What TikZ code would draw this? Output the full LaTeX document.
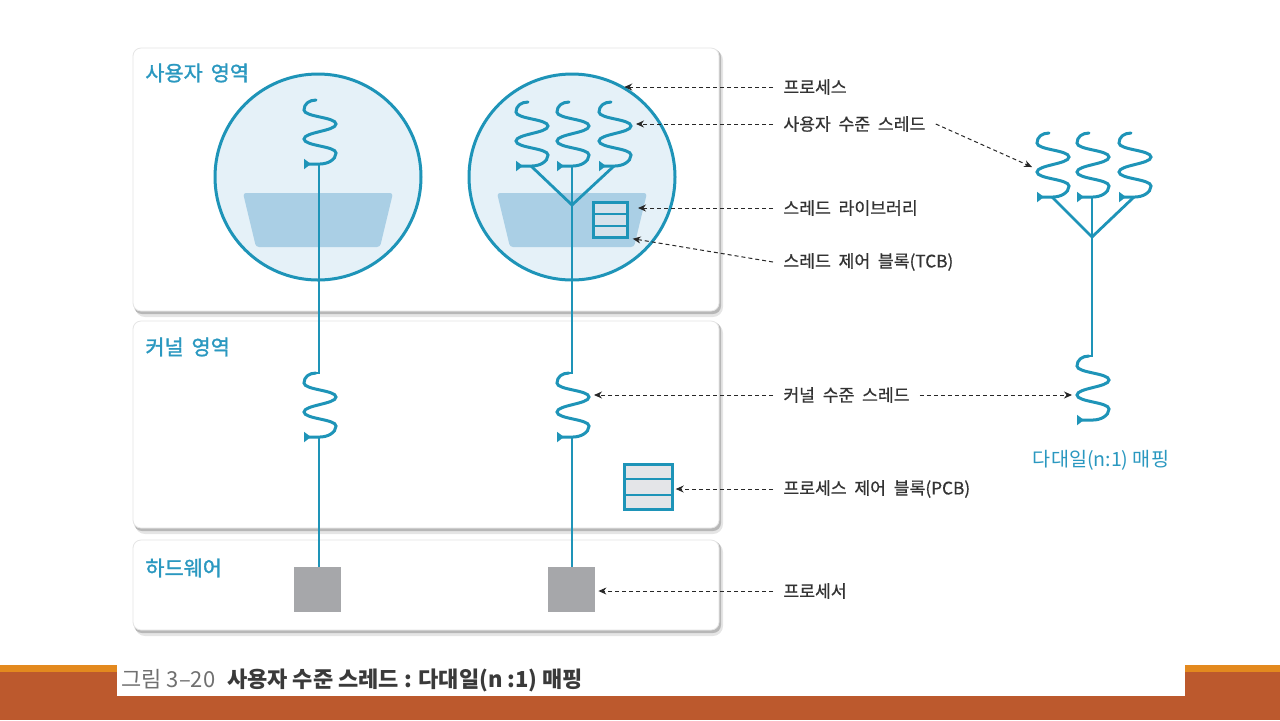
\documentclass[tikz,border=0pt]{standalone}
\usepackage{fontspec}
\setmainfont{Noto Sans CJK KR}
\newfontfamily\lblfont[WordSpace=2.0,FakeBold=0.6]{Noto Sans CJK KR}
\newfontfamily\areafont[WordSpace=1.7,FakeBold=1.4]{Noto Sans CJK KR}
\usepackage{tikz}
\usetikzlibrary{calc,arrows.meta,positioning}
\definecolor{osTeal}{RGB}{30,148,184}
\definecolor{osTealText}{RGB}{42,152,192}
\definecolor{osCircle}{RGB}{229,241,248}
\definecolor{osLib}{RGB}{170,207,229}
\definecolor{osTcb}{RGB}{214,226,235}
\definecolor{osPcb}{RGB}{228,229,232}
\definecolor{osCpu}{RGB}{166,167,170}
\definecolor{osText}{RGB}{51,51,51}
\definecolor{osDash}{RGB}{40,40,40}
\definecolor{osAmber}{RGB}{227,137,30}
\definecolor{osRust}{RGB}{188,89,45}
\definecolor{osCapGray}{RGB}{112,112,112}
\definecolor{osCapDark}{RGB}{58,58,58}

\tikzset{
    thread/.style={draw=osTeal, line width=1.5pt, line cap=round},
    wire/.style={draw=osTeal, line width=1.4pt},
    procc/.style={circle, draw=osTeal, line width=1.5pt, fill=osCircle, minimum size=103pt, inner sep=0pt},
    cb/.style={draw=osTeal, line width=1.2pt, inner sep=0pt},
    cbrule/.style={draw=osTeal, line width=1.2pt},
    cpu/.style={fill=osCpu, minimum width=23.5pt, minimum height=22.5pt, inner sep=0pt},
    panelbox/.style={fill=white, draw=black!10, line width=0.4pt, rounded corners=4pt},
    area/.style={anchor=west, inner sep=0pt, text=osTealText, font=\areafont\fontsize{10.4pt}{12pt}\selectfont},
    maplabel/.style={inner sep=0pt, text=osTealText, font=\fontsize{9.8pt}{12pt}\selectfont},
    lbl/.style={anchor=west, inner xsep=5pt, inner ysep=1pt, text=osText, font=\lblfont\fontsize{8.6pt}{10pt}\selectfont},
    callout/.style={draw=osDash, line width=0.5pt, dash pattern=on 2pt off 1.5pt, -{Stealth[length=4pt,width=3.5pt]}},
    caption/.style={anchor=west, inner sep=0pt, text=osCapDark, font=\fontsize{11pt}{13pt}\selectfont},
    coil/.pic={
        \coordinate (-top) at (-3,-64);
        \coordinate (-base) at (0,0);
        \coordinate (-right) at (22,-41);
        \coordinate (-left) at (-20,-30);
        \draw[thread, -{Triangle[reversed,length=3.5pt,width=5pt]}]
            (-3,-64) .. controls (-10,-64) and (-15,-60) .. (-15,-54)
            .. controls (-15,-47) and (17,-47) .. (17,-40)
            .. controls (17,-33) and (-15,-32) .. (-15,-25)
            .. controls (-15,-18) and (17,-18) .. (17,-11)
            .. controls (17,-4) and (8,0) .. (1,0) -- (-15,0);
    }
}

\begin{document}
\begin{tikzpicture}[x=0.5pt,y=-0.5pt]
    % page
    \useasboundingbox (0,0) rectangle (1280,720);
    \fill[white] (0,0) rectangle (1280,720);

    % footer band with caption
    \fill[osAmber] (0,665) rectangle (1280,672);
    \fill[osRust] (0,672) rectangle (1280,720);
    \fill[white] (117,665) rectangle (1185,696);
    \node[caption] (cap) at (121,680) {{\color{osCapGray}그림 3–20}\hspace{6pt}\textbf{사용자 수준 스레드 : 다대일(n :1) 매핑}};

    % three areas, soft shadow under each
    \foreach \ptop/\pbot in {48/311,321/528,540/630} {
        \fill[black, opacity=0.10, rounded corners=5pt] (135,\ptop+2) rectangle (723,\pbot+6);
        \fill[black, opacity=0.20, rounded corners=4pt] (134,\ptop+1) rectangle (721,\pbot+3);
        \draw[panelbox] (133,\ptop) rectangle (719,\pbot);
    }
    \node[area] (uarea) at (145,73) {사용자 영역};
    \node[area] (karea) at (145,347) {커널 영역};
    \node[area] (harea) at (145,568) {하드웨어};

    % processes with thread library
    \node[procc] (c1) at (318,177) {};
    \node[procc] (c2) at (572,177) {};
    \foreach \cx in {318,572}
        \fill[osLib, rounded corners=1.5pt] (\cx-75,193) -- (\cx+75,193) -- (\cx+62,247) -- (\cx-62,247) -- cycle;
    \coordinate (lib2) at (638,207);

    % control blocks
    \node[cb, fill=osTcb, minimum width=17pt, minimum height=17.5pt] (tcb) at (610.5,220) {};
    \node[cb, fill=osPcb, minimum width=24pt, minimum height=22.5pt] (pcb) at (648.5,487) {};
    \foreach \b in {tcb,pcb} {
        \draw[cbrule] ($(\b.north west)!1/3!(\b.south west)$) -- ($(\b.north east)!1/3!(\b.south east)$);
        \draw[cbrule] ($(\b.north west)!2/3!(\b.south west)$) -- ($(\b.north east)!2/3!(\b.south east)$);
    }

    % processors
    \node[cpu] (cpu1) at (317.5,589.5) {};
    \node[cpu] (cpu2) at (571.5,589.5) {};

    % user level threads
    \pic (ut1) at (319,164) {coil};
    \pic (ut2a) at (531,166) {coil};
    \pic (ut2b) at (572,166) {coil};
    \pic (ut2c) at (614,166) {coil};
    \pic (ut3a) at (1052,197) {coil};
    \pic (ut3b) at (1092,197) {coil};
    \pic (ut3c) at (1134,197) {coil};

    % kernel level threads
    \pic (kt1) at (319,437) {coil};
    \pic (kt2) at (572,437) {coil};
    \pic (kt3) at (1092,420) {coil};

    % n:1 wiring
    \coordinate (fan2) at (572,205);
    \coordinate (fan3) at (1092,237);
    \draw[wire] (ut1-base) |- (kt1-top);
    \draw[wire] (kt1-base) -- (kt1-base |- cpu1.north);
    \draw[wire] (ut2a-base) -- (fan2) -- (ut2c-base);
    \draw[wire] (ut2b-base) |- (kt2-top);
    \draw[wire] (kt2-base) -- (kt2-base |- cpu2.north);
    \draw[wire] (ut3a-base) -- (fan3) -- (ut3c-base);
    \draw[wire] (ut3b-base) |- (kt3-top);
    \node[maplabel] (maplbl) at (1101,460) {다대일(n:1) 매핑};

    % labels
    \node[lbl] (lblproc) at (773,87) {프로세스};
    \node[lbl] (lbluser) at (773,124) {사용자 수준 스레드};
    \node[lbl] (lbllib) at (773,208) {스레드 라이브러리};
    \node[lbl] (lbltcb) at (773,262) {스레드 제어 블록(TCB)};
    \node[lbl] (lblkern) at (773,395) {커널 수준 스레드};
    \node[lbl] (lblpcb) at (773,489) {프로세스 제어 블록(PCB)};
    \node[lbl] (lblcpu) at (773,591) {프로세서};

    % callouts
    \draw[callout] (lblproc.west) -- (lblproc.west -| c2.60);
    \draw[callout] (lbluser.west) -- (lbluser.west -| ut2c-right);
    \draw[callout] (lbluser.east) -- (ut3a-left);
    \draw[callout] (lbllib.west) -- (lbllib.west -| lib2);
    \draw[callout] (lbltcb.west) -- ([xshift=2pt]tcb.south east);
    \draw[callout] (lblkern.west) -- (lblkern.west -| kt2-right);
    \draw[callout] (lblkern.east) -- (lblkern.east -| kt3-left);
    \draw[callout] (lblpcb.west) -- ([xshift=1pt]pcb.east |- lblpcb.west);
    \draw[callout] (lblcpu.west) -- ([xshift=1.5pt]cpu2.east |- lblcpu.west);
\end{tikzpicture}
\end{document}
